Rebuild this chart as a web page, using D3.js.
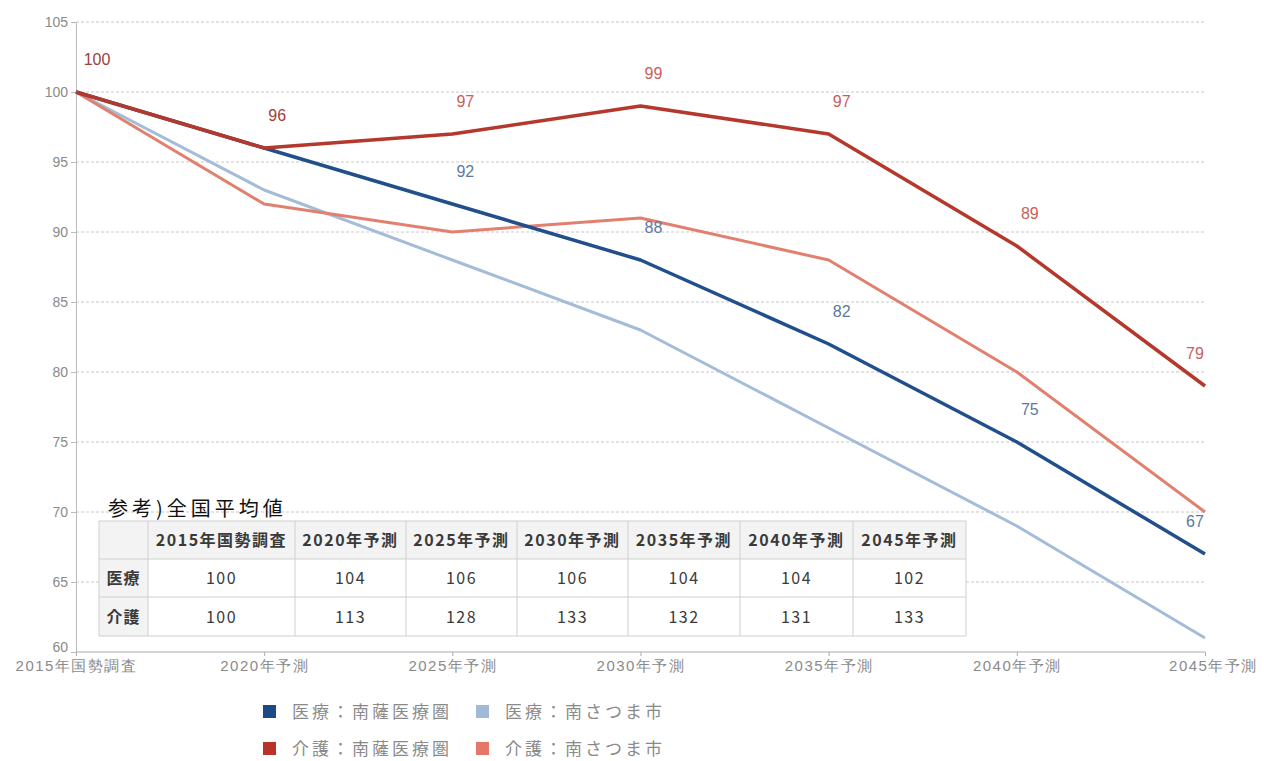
<!DOCTYPE html>
<html><head><meta charset="utf-8">
<script src="https://cdn.jsdelivr.net/npm/d3@7/dist/d3.min.js"></script>
<style>
html,body{margin:0;padding:0;background:#fff;}
svg{display:block;font-family:"Noto Sans CJK JP","Noto Sans",sans-serif;}
</style></head><body>
<svg id="c" width="1264" height="761"></svg>
<script>
const categories = ["2015年国勢調査","2020年予測","2025年予測","2030年予測","2035年予測","2040年予測","2045年予測"];
const iryoNansatsu = [100,96,92,88,82,75,67];
const iryoMinamisatsuma = [100,93,88,83,76,69,61];
const kaigoNansatsu = [100,96,97,99,97,89,79];
const kaigoMinamisatsuma = [100,92,90,91,88,80,70];
const seriesNames = ["医療：南薩医療圏","医療：南さつま市","介護：南薩医療圏","介護：南さつま市"];
const yTicks = [60,65,70,75,80,85,90,95,100,105];
const tableTitle = "参考)全国平均値";
const tableRows = ["医療","介護"];
const nationalIryo = [100,104,106,106,104,104,102];
const nationalKaigo = [100,113,128,133,132,131,133];

const svg = d3.select("#c");
const x = d3.scalePoint().domain(categories).range([76,1205]);
const y = d3.scaleLinear().domain([60,105]).range([652,22]);

// grid
svg.append("g").selectAll("line").data(yTicks.filter(d=>d>60)).join("line")
  .attr("x1",76).attr("x2",1205).attr("y1",d=>y(d)).attr("y2",d=>y(d))
  .attr("stroke","#c8c8c8").attr("stroke-dasharray","3,2").attr("stroke-width",1);

// y axis
const ya = svg.append("g").attr("transform","translate(76,0)")
  .call(d3.axisLeft(y).tickValues(yTicks).tickSize(5).tickPadding(3));
ya.select(".domain").attr("stroke","#bbb");
ya.selectAll(".tick line").attr("stroke","#bbb");
ya.selectAll("text").attr("fill","#8a8a8a").style("font-size","14px").style("font-family","'Liberation Sans',sans-serif")
  .attr("dy",d=> d===60 ? "-0.05em" : "0.32em");

// x axis
const xa = svg.append("g").attr("transform","translate(0,652)")
  .call(d3.axisBottom(x).tickSize(4).tickPadding(4));
xa.select(".domain").attr("stroke","#aaa").attr("d","M76,0H1205");
xa.selectAll(".tick line").attr("stroke","#aaa");
xa.selectAll("text").attr("fill","#8a8a8a").style("font-size","15px").style("letter-spacing","1.5px")
  .attr("dx",(d,i)=> i===categories.length-1 ? 8 : 0);

const series = [
  {name:seriesNames[1], vals:iryoMinamisatsuma, color:"#a4bcd8", w:3, label:false},
  {name:seriesNames[3], vals:kaigoMinamisatsuma, color:"#e2806f", w:3, label:false},
  {name:seriesNames[0], vals:iryoNansatsu, color:"#214f8b", w:3.5, label:true, lc:"#5b7aa0"},
  {name:seriesNames[2], vals:kaigoNansatsu, color:"#b5382c", w:3.5, label:true, lc:"#c8605a"}
];
const line = d3.line().x((d,i)=>x(categories[i])).y(d=>y(d));
series.forEach(s=>{
  svg.append("path").datum(s.vals).attr("d",line).attr("fill","none")
    .attr("stroke",s.color).attr("stroke-width",s.w).attr("stroke-linejoin","round");
});
// labels
series.filter(s=>s.label).forEach(s=>{
  svg.append("g").selectAll("text").data(s.vals.map((v,i)=>({v,i}))).join("text")
    .filter(d=> !(s.name===seriesNames[0] && d.i<2))
    .attr("x",d=> d.i===categories.length-1 ? x(categories[d.i])-10 : x(categories[d.i])+ (d.i===0?21:13))
    .attr("y",d=> y(d.v)-27)
    .attr("text-anchor","middle").attr("fill",d=> (s.name===seriesNames[2] && d.i<2) ? "#a0403a" : s.lc)
    .style("font-size","16px").style("font-family","'Liberation Sans',sans-serif")
    .text(d=>d.v);
});

// table
const tx0 = 99, colW = [49,147,111,111,111,112,113,113];
const colX = [tx0]; colW.forEach((w,i)=>colX.push(colX[i]+w));
const rowY = [521,559,597,636];
const tg = svg.append("g");
tg.append("text").attr("x",108).attr("y",516).text(tableTitle)
  .style("font-size","20px").style("letter-spacing","4px").attr("fill","#111");
// backgrounds
tg.append("rect").attr("x",colX[0]).attr("y",rowY[0]).attr("width",colX[8]-colX[0]).attr("height",rowY[1]-rowY[0]).attr("fill","#f3f3f3");
tg.append("rect").attr("x",colX[0]).attr("y",rowY[1]).attr("width",colW[0]).attr("height",rowY[3]-rowY[1]).attr("fill","#f3f3f3");
tg.append("rect").attr("x",colX[1]).attr("y",rowY[1]).attr("width",colX[8]-colX[1]).attr("height",rowY[3]-rowY[1]).attr("fill","#fff");
tg.selectAll("line.v").data(colX).join("line").attr("x1",d=>d).attr("x2",d=>d).attr("y1",rowY[0]).attr("y2",rowY[3]).attr("stroke","#cfcfcf");
tg.selectAll("line.h").data(rowY).join("line").attr("x1",colX[0]).attr("x2",colX[8]).attr("y1",d=>d).attr("y2",d=>d).attr("stroke","#cfcfcf");
const cellFont = "16px", cellLS = "1.5px";
categories.forEach((c,i)=>{
  tg.append("text").attr("x",(colX[i+1]+colX[i+2])/2).attr("y",(rowY[0]+rowY[1])/2+6)
    .attr("text-anchor","middle").style("font-size",cellFont).style("letter-spacing",cellLS).style("font-weight","bold").attr("fill","#3a3a3a").text(c);
});
[nationalIryo,nationalKaigo].forEach((arr,r)=>{
  tg.append("text").attr("x",(colX[0]+colX[1])/2).attr("y",(rowY[r+1]+rowY[r+2])/2+6)
    .attr("text-anchor","middle").style("font-size",cellFont).style("letter-spacing","1px").style("font-weight","bold").attr("fill","#3a3a3a").text(tableRows[r]);
  arr.forEach((v,i)=>{
    tg.append("text").attr("x",(colX[i+1]+colX[i+2])/2).attr("y",(rowY[r+1]+rowY[r+2])/2+6)
      .attr("text-anchor","middle").style("font-size",cellFont).style("letter-spacing",cellLS).attr("fill","#3a3a3a").text(v);
  });
});

// legend
const legendItems = [
  {name:seriesNames[0], color:"#1d4a87", x:263, y:712},
  {name:seriesNames[1], color:"#9fb9d7", x:476, y:712},
  {name:seriesNames[2], color:"#b93426", x:263, y:749},
  {name:seriesNames[3], color:"#e5776a", x:476, y:749}
];
const lg = svg.append("g").selectAll("g").data(legendItems).join("g")
  .attr("transform",d=>`translate(${d.x},${d.y})`);
lg.append("rect").attr("x",0).attr("y",-7).attr("width",13).attr("height",13).attr("fill",d=>d.color);
lg.append("text").attr("x",29).attr("y",6).text(d=>d.name).style("font-size","17px").style("letter-spacing","3px").attr("fill","#8a8a8a");
</script>
</body></html>
